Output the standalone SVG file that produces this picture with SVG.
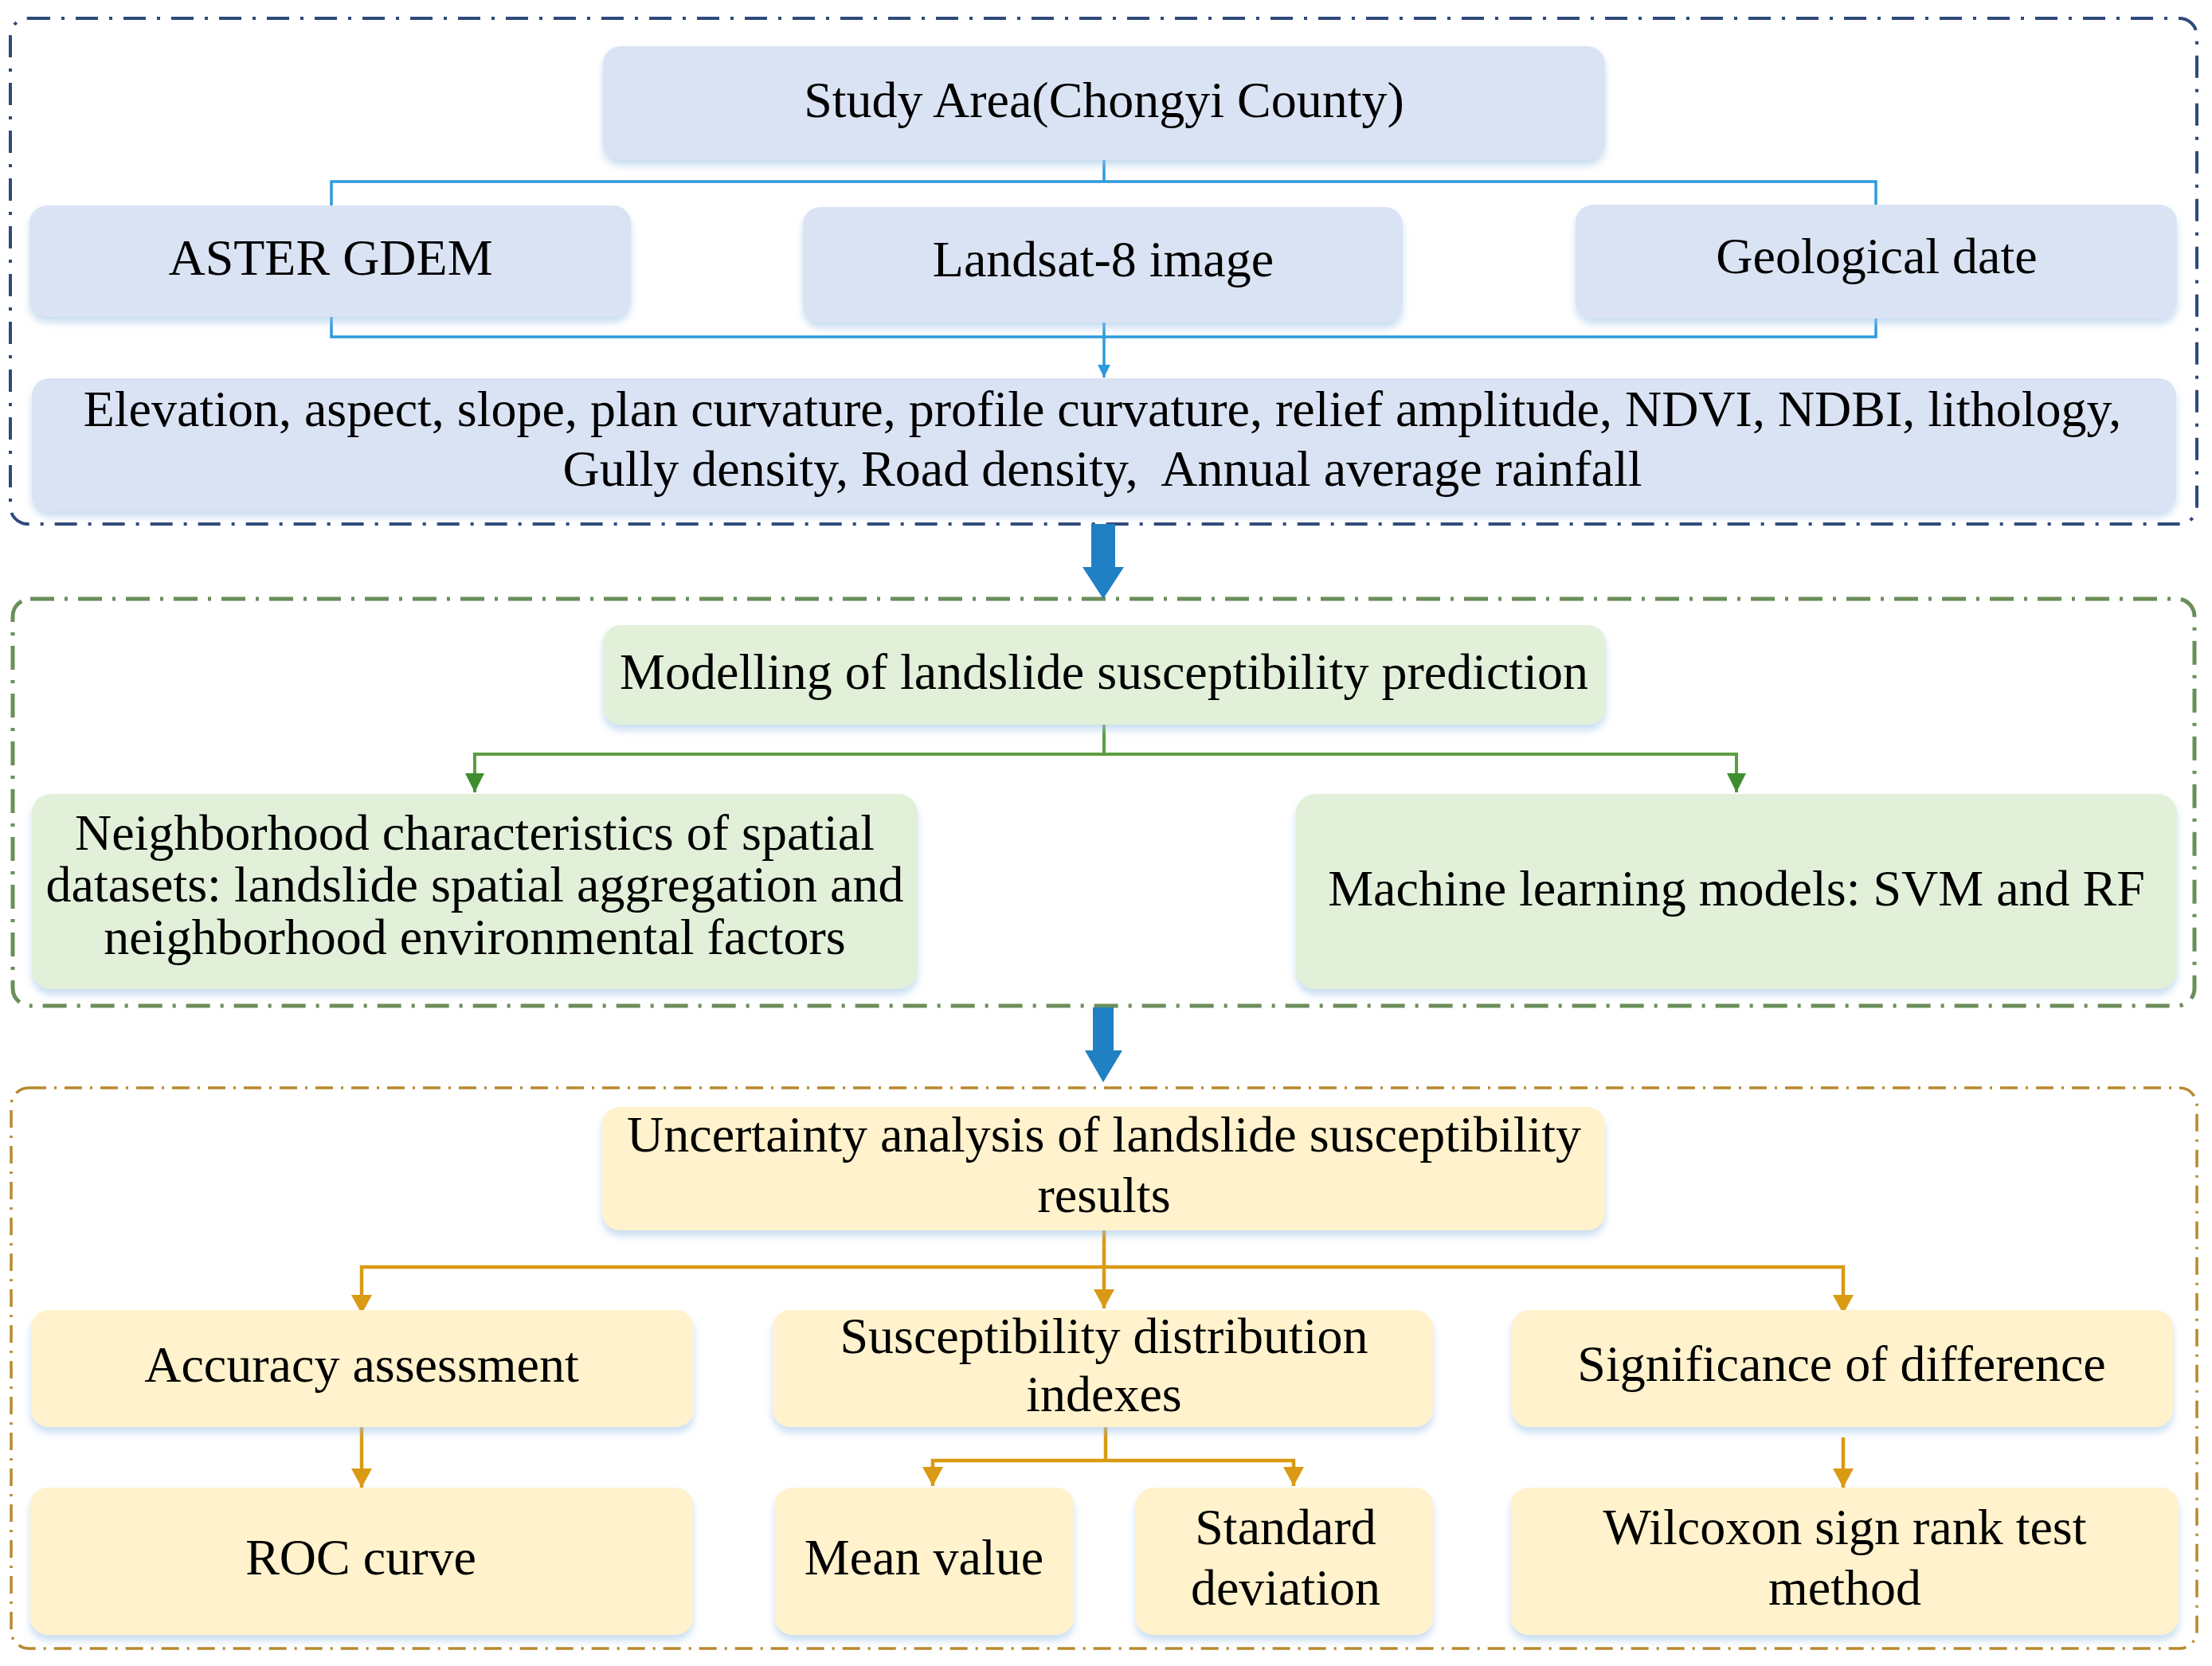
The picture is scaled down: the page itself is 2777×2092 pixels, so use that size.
<svg xmlns="http://www.w3.org/2000/svg" width="2777" height="2092" viewBox="0 0 2777 2092">
  <style>
    .t { font-family: "Liberation Serif", "Times New Roman", serif; font-size: 64px; fill: #000; text-anchor: middle; }
    .sec1 { fill: none; stroke: #2E4A7A; stroke-width: 4; stroke-dasharray: 28 14 4 14; }
    .sec2 { fill: none; stroke: #6B8E5A; stroke-width: 5; stroke-dasharray: 30 13 4 13; }
    .sec3 { fill: none; stroke: #B8892E; stroke-width: 3.5; stroke-dasharray: 22 10 3 10; }
    .blue { fill: #DAE3F3; filter: url(#sh); }
    .green { fill: #E2F0D9; filter: url(#sh); }
    .gold { fill: #FFF2CC; filter: url(#sh); }
    .cb { fill: none; stroke: #2E9BDC; stroke-width: 3.5; }
    .cg { fill: none; stroke: #5A9E3F; stroke-width: 4; }
    .cy { fill: none; stroke: #D99A14; stroke-width: 4.5; }
    .big { fill: #1F80C3; }
  </style>
  <defs>
    <filter id="sh" x="-5%" y="-10%" width="110%" height="130%">
      <feDropShadow dx="0" dy="7" stdDeviation="5" flood-color="#9DC3E6" flood-opacity="0.55"/>
    </filter>
    <marker id="ab" markerUnits="userSpaceOnUse" markerWidth="18" markerHeight="18" refX="16" refY="8" orient="auto">
      <path d="M0,0 L16,8 L0,16 z" fill="#2E9BDC"/>
    </marker>
    <marker id="ag" markerUnits="userSpaceOnUse" markerWidth="26" markerHeight="26" refX="24" refY="12" orient="auto">
      <path d="M0,0 L24,12 L0,24 z" fill="#3E8E2E"/>
    </marker>
    <marker id="ay" markerUnits="userSpaceOnUse" markerWidth="26" markerHeight="28" refX="24" refY="13" orient="auto">
      <path d="M0,0 L24,13 L0,26 z" fill="#D99A14"/>
    </marker>
  </defs>
  <rect width="2777" height="2092" fill="#FFFFFF"/>

  <g id="sections">
    <rect class="sec1" x="13" y="23" width="2745" height="635" rx="22"/>
    <rect class="sec2" x="16" y="752" width="2739" height="511" rx="22"/>
    <rect class="sec3" x="14" y="1366" width="2744" height="704" rx="22"/>
  </g>

  <g id="connectors">
    <path class="cb" d="M1386,201 V228"/>
    <path class="cb" d="M416,258 V228 H2355 V257"/>
    <path class="cb" d="M416,398 V423 H2355 V400"/>
    <path class="cb" d="M1386,405 V423"/>
    <path class="cb" d="M1386,423 V474" marker-end="url(#ab)"/>
    <polygon class="big" points="1370,658 1400,658 1400,712 1411,712 1385,752 1359,712 1370,712"/>
    <path class="cg" d="M1386,910 V947"/>
    <path class="cg" d="M1386,947 H596 V995" marker-end="url(#ag)"/>
    <path class="cg" d="M1386,947 H2180 V995" marker-end="url(#ag)"/>
    <polygon class="big" points="1372,1265 1398,1265 1398,1319 1409,1319 1385,1359 1362,1319 1372,1319"/>
    <path class="cy" d="M1386,1545 V1591"/>
    <path class="cy" d="M1386,1591 H454 V1650" marker-end="url(#ay)"/>
    <path class="cy" d="M1386,1591 H2314 V1650" marker-end="url(#ay)"/>
    <path class="cy" d="M1386,1591 V1643" marker-end="url(#ay)"/>
    <path class="cy" d="M454,1792 V1868" marker-end="url(#ay)"/>
    <path class="cy" d="M1388,1792 V1834"/>
    <path class="cy" d="M1388,1834 H1171 V1866" marker-end="url(#ay)"/>
    <path class="cy" d="M1388,1834 H1624 V1866" marker-end="url(#ay)"/>
    <path class="cy" d="M2314,1805 V1868" marker-end="url(#ay)"/>
  </g>

  <g id="study-area">
    <rect class="blue" x="757" y="58" width="1258" height="143" rx="22"/>
    <text class="t" x="1386" y="147">Study Area(Chongyi County)</text>
  </g>
  <g id="aster">
    <rect class="blue" x="37" y="258" width="755" height="140" rx="22"/>
    <text class="t" x="415" y="345">ASTER GDEM</text>
  </g>
  <g id="landsat">
    <rect class="blue" x="1008" y="260" width="753" height="145" rx="22"/>
    <text class="t" x="1385" y="347">Landsat-8 image</text>
  </g>
  <g id="geological">
    <rect class="blue" x="1978" y="257" width="755" height="143" rx="22"/>
    <text class="t" x="2356" y="343">Geological date</text>
  </g>
  <g id="factors">
    <rect class="blue" x="40" y="475" width="2692" height="167" rx="22"/>
    <text class="t" x="1384" y="535">Elevation, aspect, slope, plan curvature, profile curvature, relief amplitude, NDVI, NDBI, lithology,</text>
    <text class="t" x="1384" y="610" xml:space="preserve">Gully density, Road density,  Annual average rainfall</text>
  </g>

  <g id="modelling">
    <rect class="green" x="757" y="785" width="1259" height="125" rx="22"/>
    <text class="t" x="1386" y="865">Modelling of landslide susceptibility prediction</text>
  </g>
  <g id="neighborhood">
    <rect class="green" x="40" y="997" width="1112" height="245" rx="24"/>
    <text class="t" x="596" y="1067">Neighborhood characteristics of spatial</text>
    <text class="t" x="596" y="1132">datasets: landslide spatial aggregation and</text>
    <text class="t" x="596" y="1198">neighborhood environmental factors</text>
  </g>
  <g id="machine-learning">
    <rect class="green" x="1627" y="997" width="1106" height="245" rx="24"/>
    <text class="t" x="2180" y="1137">Machine learning models: SVM and RF</text>
  </g>

  <g id="uncertainty">
    <rect class="gold" x="756" y="1390" width="1259" height="155" rx="22"/>
    <text class="t" x="1386" y="1446">Uncertainty analysis of landslide susceptibility</text>
    <text class="t" x="1386" y="1522">results</text>
  </g>
  <g id="accuracy">
    <rect class="gold" x="39" y="1645" width="832" height="147" rx="22"/>
    <text class="t" x="454" y="1735">Accuracy assessment</text>
  </g>
  <g id="distribution">
    <rect class="gold" x="970" y="1645" width="829" height="147" rx="22"/>
    <text class="t" x="1386" y="1699">Susceptibility distribution</text>
    <text class="t" x="1386" y="1772">indexes</text>
  </g>
  <g id="significance">
    <rect class="gold" x="1898" y="1645" width="830" height="147" rx="22"/>
    <text class="t" x="2312" y="1734">Significance of difference</text>
  </g>
  <g id="roc">
    <rect class="gold" x="38" y="1868" width="832" height="185" rx="22"/>
    <text class="t" x="453" y="1977">ROC curve</text>
  </g>
  <g id="mean">
    <rect class="gold" x="973" y="1868" width="375" height="185" rx="22"/>
    <text class="t" x="1160" y="1977">Mean value</text>
  </g>
  <g id="std">
    <rect class="gold" x="1426" y="1868" width="373" height="185" rx="22"/>
    <text class="t" x="1614" y="1939">Standard</text>
    <text class="t" x="1614" y="2015">deviation</text>
  </g>
  <g id="wilcoxon">
    <rect class="gold" x="1897" y="1868" width="838" height="185" rx="22"/>
    <text class="t" x="2316" y="1939">Wilcoxon sign rank test</text>
    <text class="t" x="2316" y="2015">method</text>
  </g>
</svg>
